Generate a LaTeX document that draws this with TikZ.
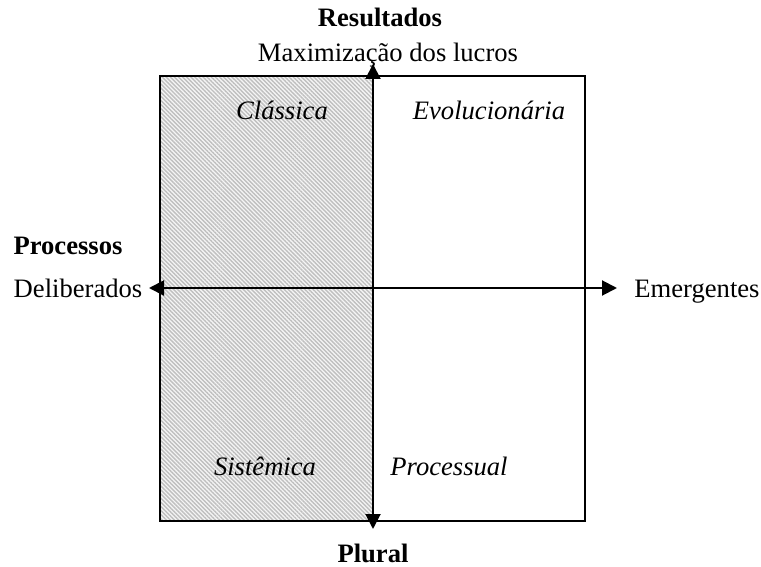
\documentclass[tikz,border=0pt]{standalone}
\usepackage{fontspec}
\setmainfont{Liberation Serif}
\usetikzlibrary{arrows.meta,patterns.meta}

\begin{document}
\begin{tikzpicture}[x=0.5pt, y=-0.5pt,
    lbl/.style={anchor=base, inner sep=0pt, font=\fontsize{13.3}{16}\selectfont},
    quad/.style={lbl, font=\fontsize{13.3}{16}\selectfont\itshape},
    axis/.style={line width=1pt, {Triangle[length=7.5pt,width=7.5pt]}-{Triangle[length=7.5pt,width=7.5pt]}}]

        % Fix the page to the size of the reference
        \useasboundingbox (0,0) rectangle (761,567);

        % Corners of the frame and the end points of the two axes
        \coordinate (TL) at (160,76);
        \coordinate (BR) at (585,521);
        \coordinate (Mid) at (373,521);
        \coordinate (Up) at (373,64);
        \coordinate (Down) at (373,529);
        \coordinate (Left) at (149,288);
        \coordinate (Right) at (617,288);

        % Hatched left half of the frame
        \fill[gray!8] (TL) rectangle (Mid);
        \fill[pattern={Lines[angle=-45, distance=1.45pt, line width=0.7pt]}, pattern color=gray!50] (TL) rectangle (Mid);
        \draw[line width=1pt] (TL) rectangle (BR);

        % The two axes
        \draw[axis] (Down) -- (Up);
        \draw[axis] (Left) -- (Right);

        % Axis labels
        \node[lbl, font=\fontsize{13.3}{16}\selectfont\bfseries] (Res) at (380,27) {Resultados};
        \node[lbl] (Max) at (388,62) {Maximização dos lucros};
        \node[lbl, font=\fontsize{13.3}{16}\selectfont\bfseries] (Proc) at (68,255) {Processos};
        \node[lbl] (Del) at (78,297) {Deliberados};
        \node[lbl] (Emer) at (697,297) {Emergentes};
        \node[lbl, font=\fontsize{13.3}{16}\selectfont\bfseries] (Plu) at (373,562) {Plural};

        % Loop to put the names of the four schools in the quadrants
        \foreach \x/\y/\name/\txt in {282/120/Cla/Clássica, 489/120/Evo/Evolucionária,
                                      265/475/Sis/Sistêmica, 449/475/Pro/Processual} {
            \node[quad] (\name) at (\x,\y) {\txt};
        }

    \end{tikzpicture}
\end{document}
